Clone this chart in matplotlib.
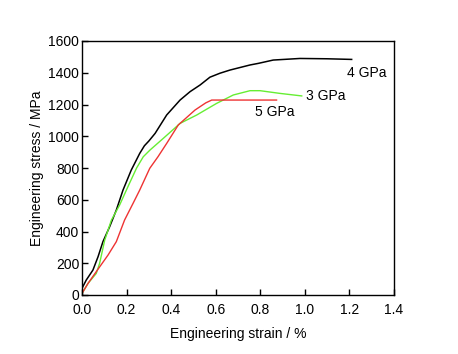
import numpy as np
import matplotlib
matplotlib.use('Agg')
import matplotlib.pyplot as plt

plt.rcParams['font.family'] = ['Liberation Sans', 'DejaVu Sans']

# 4 GPa
strain_4 = [0.0, 0.019, 0.049, 0.072, 0.094, 0.124, 0.154, 0.184, 0.221, 0.259,
            0.28, 0.3, 0.328, 0.38, 0.44, 0.485, 0.53, 0.574, 0.619, 0.664,
            0.754, 0.791, 0.858, 0.978, 1.1, 1.21]
stress_4 = [42, 94, 157, 241, 336, 430, 535, 661, 787, 892,
            940, 970, 1018, 1134, 1228, 1281, 1323, 1372, 1397, 1417,
            1449, 1459, 1480, 1490, 1488, 1484]

# 3 GPa
strain_3 = [0.0, 0.027, 0.064, 0.079, 0.102, 0.132, 0.169, 0.206, 0.245, 0.275,
            0.305, 0.365, 0.44, 0.515, 0.604, 0.679, 0.754, 0.799, 0.888, 0.986]
stress_3 = [10, 73, 136, 199, 346, 472, 567, 682, 800, 871,
            913, 987, 1081, 1134, 1207, 1260, 1287, 1287, 1270, 1254]

# 5 GPa
strain_5 = [0.0, 0.027, 0.064, 0.117, 0.154, 0.191, 0.229, 0.259, 0.304, 0.341,
            0.38, 0.432, 0.507, 0.555, 0.582, 0.873]
stress_5 = [10, 73, 147, 252, 336, 472, 577, 661, 798, 871,
            955, 1071, 1165, 1210, 1228, 1228]

labels = ['4 GPa', '3 GPa', '5 GPa']
label_pos = [(1.19, 1400), (1.005, 1255), (0.776, 1150)]

fig = plt.figure(figsize=(4.58, 3.54), dpi=100)
ax = fig.add_axes([82 / 458, 1 - 295 / 354, (394 - 82) / 458, (295 - 41) / 354])

ax.plot(strain_4, stress_4, color='black', lw=1.1)
ax.plot(strain_3, stress_3, color='#66ee33', lw=1.0)
ax.plot(strain_5, stress_5, color='#ee3333', lw=1.0)

for lab, (x, y) in zip(labels, label_pos):
    ax.text(x, y, lab, fontsize=10, ha='left', va='center')

ax.set_xlim(0, 1.4)
ax.set_ylim(0, 1600)
ax.set_xticks(np.arange(0, 1.41, 0.2))
ax.set_xticklabels([f'{v:.1f}' for v in np.arange(0, 1.41, 0.2)])
ax.set_yticks(np.arange(0, 1601, 200))
ax.tick_params(axis='x', direction='in', length=4, width=1, labelsize=10, pad=6)
ax.tick_params(axis='y', direction='in', length=4, width=1, labelsize=10, pad=2)
for s in ax.spines.values():
    s.set_linewidth(1)

ax.set_xlabel('Engineering strain / %', fontsize=10, labelpad=7)
ax.set_ylabel('Engineering stress / MPa', fontsize=10, labelpad=3)

fig.savefig('out.png', dpi=100)
